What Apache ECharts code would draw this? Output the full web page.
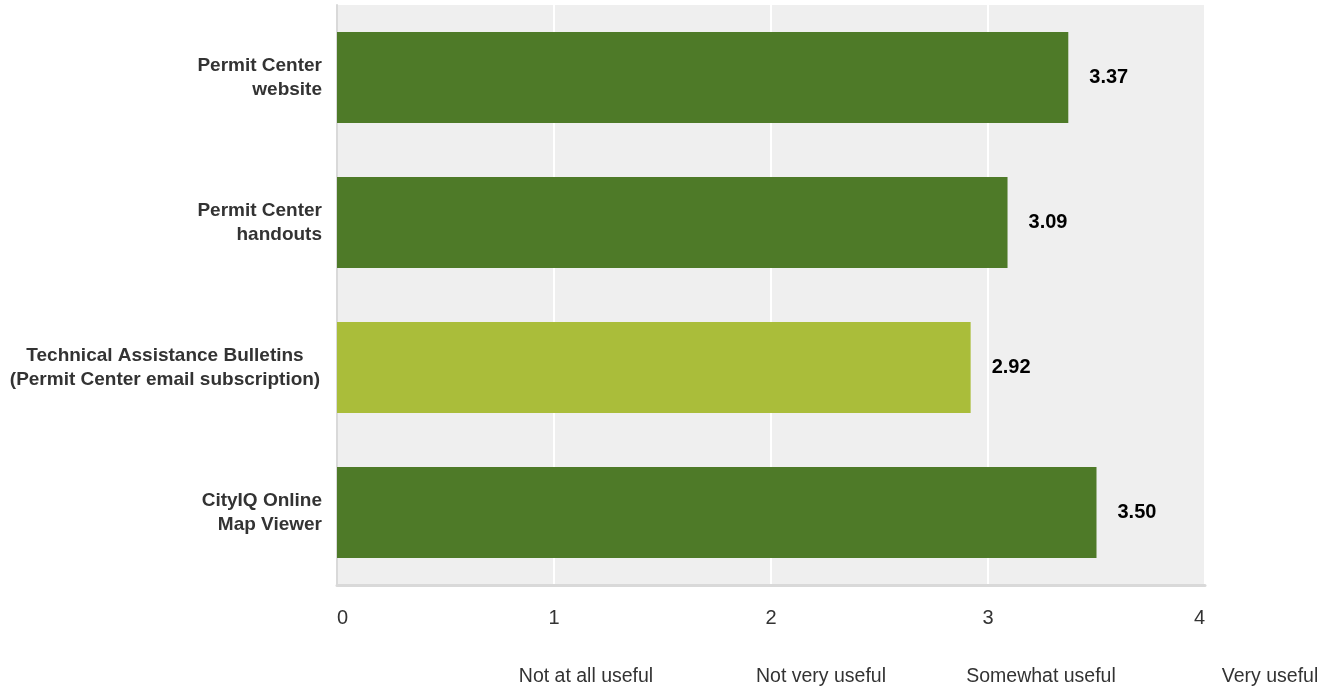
<!DOCTYPE html>
<html>
<head>
<meta charset="utf-8">
<script src="https://cdn.jsdelivr.net/npm/echarts@6/dist/echarts.min.js"></script>
<style>html,body{margin:0;padding:0;background:#fff}#c{width:1333px;height:691px}</style>
</head>
<body>
<div id="c"></div>
<script>
var categories = [
  "Permit Center\nwebsite",
  "Permit Center\nhandouts",
  "Technical Assistance Bulletins\n(Permit Center email subscription)",
  "CityIQ Online\nMap Viewer"
];
var values = [3.37, 3.09, 2.92, 3.50];
var highlighted = [false, false, true, false];
var tickLabels = ["0", "1", "2", "3", "4"];
var scaleLabels = ["Not at all useful", "Not very useful", "Somewhat useful", "Very useful"];
var scaleLabelX = [586, 821, 1041, 1270];

var DARK = "#4e7a28", LIGHT = "#aabd3a";
var chart = echarts.init(document.getElementById('c'), null, {renderer: 'canvas'});
var option = {
  backgroundColor: '#fff',
  animation: false,
  textStyle: {fontFamily: 'Liberation Sans, Arial, sans-serif'},
  grid: {left: 337, right: 128, top: 5, bottom: 106, show: true, backgroundColor: '#efefef', borderWidth: 0},
  xAxis: {
    type: 'value', min: 0, max: 4, interval: 1,
    axisLine: {show: true, lineStyle: {color: '#d9d9d9', width: 3}},
    axisTick: {show: false},
    splitLine: {show: true, lineStyle: {color: '#ffffff', width: 2}},
    axisLabel: {
      color: '#333', fontSize: 20, margin: 23,
      alignMinLabel: 'left', alignMaxLabel: 'right',
      formatter: function (v) { return tickLabels[Math.round(v)]; }
    }
  },
  yAxis: {
    type: 'category', inverse: true, data: categories,
    axisLine: {show: true, lineStyle: {color: '#d9d9d9', width: 2}},
    axisTick: {show: false},
    axisLabel: {
      color: '#333', fontSize: 19, fontWeight: 'bold', lineHeight: 24, margin: 15, align: 'right',
      formatter: function (v, i) {
        if (highlighted[i]) {
          return v.split('\n').map(function (l) { return '{c|' + l + '}'; }).join('\n');
        }
        return v;
      },
      rich: {c: {width: 314, align: 'center', fontSize: 19, fontWeight: 'bold', color: '#333', lineHeight: 24}}
    }
  },
  series: [{
    type: 'bar',
    barWidth: 91,
    data: values.map(function (v, i) { return {value: v, itemStyle: {color: highlighted[i] ? LIGHT : DARK}}; }),
    label: {
      show: true, position: 'right', distance: 21,
      color: '#000', fontSize: 20, fontWeight: 'bold',
      formatter: function (p) { return p.value.toFixed(2); }
    }
  }],
  graphic: scaleLabels.map(function (t, i) {
    return {
      type: 'text', x: scaleLabelX[i], y: 677,
      style: {text: t, fill: '#333', fontSize: 19.5, fontFamily: 'Liberation Sans, Arial, sans-serif', align: 'center', verticalAlign: 'middle'}
    };
  })
};
chart.setOption(option);
</script>
</body>
</html>
